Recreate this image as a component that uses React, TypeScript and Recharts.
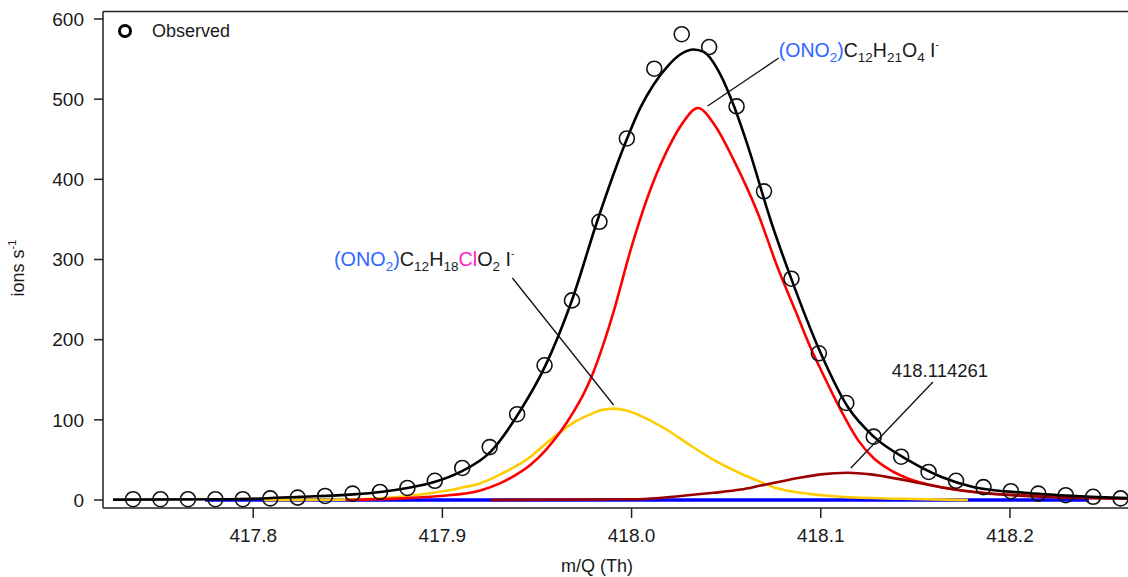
import React from 'react';
import {
  ComposedChart,
  Line,
  Scatter,
  XAxis,
  YAxis,
  ReferenceLine,
  ReferenceDot
} from 'recharts';

// Observed signal (circles)
const obsMz = [
  417.7365, 417.751, 417.7655, 417.78, 417.7945, 417.809, 417.8235, 417.838, 417.8525,
  417.867, 417.8815, 417.896, 417.9105, 417.925, 417.9395, 417.954, 417.9685, 417.983,
  417.9975, 418.012, 418.0265, 418.041, 418.0555, 418.07, 418.0845, 418.099, 418.1135,
  418.128, 418.1425, 418.157, 418.1715, 418.186, 418.2005, 418.215, 418.2295, 418.244, 418.2585
];
const obsIons = [
  1, 1, 1, 1, 1, 2, 3, 5, 8, 10, 15, 24, 40, 66, 107, 168, 249, 347, 451, 538, 581, 565,
  491, 385, 276, 183, 121, 79, 54, 35, 24, 16, 11, 8, 6, 4, 2
];

// total fit (black)
const fitMz = [
  417.7259, 417.7894, 417.8249, 417.8529, 417.8672, 417.8815, 417.8952, 417.9095, 417.9254,
  417.9413, 417.9545, 417.9683, 417.982, 417.9958, 418.0048, 418.0116, 418.019, 418.0259,
  418.0328, 418.0381, 418.0471, 418.054, 418.0614, 418.0735, 418.0841, 418.1, 418.1143,
  418.128, 418.146, 418.1635, 418.181, 418.2074, 418.2349, 418.2624
];
const fitIons = [
  0.5, 1, 4, 7, 10, 15, 22, 35, 60, 112, 168, 248, 349, 440, 490, 518, 541, 556, 562, 559,
  530, 492, 442, 349, 278, 183, 116, 79, 50, 29, 16, 9, 5, 2.5
];

// (ONO2)C12H21O4 I- (red)
const c12h21Mz = [
  417.8487, 417.8778, 417.8989, 417.9201, 417.9307, 417.9386, 417.9466, 417.9545, 417.9624,
  417.9693, 417.9746, 417.9799, 417.9852, 417.9905, 417.9995, 418.0085, 418.019, 418.0275,
  418.0349, 418.0444, 418.054, 418.0667, 418.0772, 418.0868, 418.0937, 418.1026, 418.1106,
  418.1196, 418.128, 418.137, 418.146, 418.1635, 418.181, 418.2164, 418.2624
];
const c12h21Ions = [
  0, 2, 5, 12, 21, 31, 44, 62, 85, 110, 132, 160, 195, 235, 312, 378, 437, 472, 489, 466,
  424, 358, 290, 235, 195, 150, 112, 75, 52, 37, 27, 16, 10, 5, 2
];

// (ONO2)C12H18ClO2 I- (yellow)
const c12h18Mz = [
  417.8048, 417.8497, 417.8778, 417.8952, 417.9095, 417.9201, 417.9307, 417.9466, 417.9545,
  417.9624, 417.9704, 417.9783, 417.9836, 417.9905, 417.9968, 418.0048, 418.019, 418.0312,
  418.0434, 418.0577, 418.0698, 418.0751, 418.0894, 418.1106, 418.1423, 418.1778
];
const c12h18Ions = [
  0, 0.5, 4, 9, 15, 21, 32, 54, 70, 85, 98, 107, 112, 114, 112, 105, 87, 68, 50, 33, 21, 16,
  9, 4, 1.5, 0
];

// 418.114261 (dark red)
const unkMz = [
  417.9254, 418.0032, 418.0259, 418.0434, 418.0577, 418.0683, 418.0788, 418.0894, 418.1,
  418.1143, 418.1265, 418.146, 418.1635, 418.181, 418.2164, 418.2624
];
const unkIons = [0, 1, 5, 9, 13, 18, 23, 28, 32, 34, 32, 24, 16, 10, 4, 1.5];

// empty component (blue)
const blueMz = [417.7746, 418.2418];
const blueIons = [0, 0];

const xTicks = [417.8, 417.9, 418.0, 418.1, 418.2];
const yTicks = [0, 100, 200, 300, 400, 500, 600];

const toRows = (mz: number[], ions: number[]) => mz.map((m, i) => ({ mz: m, ions: ions[i] }));

const FONT = '"Liberation Sans", Arial, sans-serif';
const INK = '#1a1a1a';
const LABEL_BLUE = '#2f66ff';
const LABEL_PINK = '#ff22cc';
const Y_MAX = 609.36;

const ObsCircle = (props: any) => {
  const { cx, cy } = props;
  if (cx == null || cy == null) return null;
  return <circle cx={cx} cy={cy} r={7.5} fill="none" stroke="#111" strokeWidth={1.6} />;
};

const centerOf = (p: any) => {
  const vb = p.viewBox || {};
  return { x: (vb.x ?? 0) + (vb.width ?? 0) / 2, y: (vb.y ?? 0) + (vb.height ?? 0) / 2 };
};

const SUB = 13.5;
const SUP = 10;

const ONO2 = () => (
  <>
    <tspan fill={LABEL_BLUE}>(ONO</tspan>
    <tspan fill={LABEL_BLUE} fontSize={SUB} dy={5}>2</tspan>
    <tspan fill={LABEL_BLUE} dy={-5}>)</tspan>
  </>
);

const LabelC12H21 = (p: any) => {
  const { x, y } = centerOf(p);
  return (
    <text x={x} y={y - 1} fontFamily={FONT} fontSize={19.5} fill={INK}>
      <ONO2 />
      <tspan>C</tspan>
      <tspan fontSize={SUB} dy={5}>12</tspan>
      <tspan dy={-5}>H</tspan>
      <tspan fontSize={SUB} dy={5}>21</tspan>
      <tspan dy={-5}>O</tspan>
      <tspan fontSize={SUB} dy={5}>4</tspan>
      <tspan dy={-5}> I</tspan>
      <tspan fontSize={SUP} dy={-9}>-</tspan>
    </text>
  );
};

const LabelC12H18 = (p: any) => {
  const { x, y } = centerOf(p);
  return (
    <text x={x + 2} y={y - 12} textAnchor="end" fontFamily={FONT} fontSize={19.8} fill={INK}>
      <ONO2 />
      <tspan>C</tspan>
      <tspan fontSize={SUB} dy={5}>12</tspan>
      <tspan dy={-5}>H</tspan>
      <tspan fontSize={SUB} dy={5}>18</tspan>
      <tspan dy={-5} fill={LABEL_PINK}>Cl</tspan>
      <tspan>O</tspan>
      <tspan fontSize={SUB} dy={5}>2</tspan>
      <tspan dy={-5}> I</tspan>
      <tspan fontSize={SUP} dy={-9}>-</tspan>
    </text>
  );
};

const LabelUnknown = (p: any) => {
  const { x, y } = centerOf(p);
  return (
    <text x={x + 7} y={y - 5} textAnchor="middle" fontFamily={FONT} fontSize={18.5} fill={INK}>
      418.114261
    </text>
  );
};

const ObservedLegend = () => (
  <div
    style={{
      position: 'absolute',
      left: 117,
      top: 21,
      display: 'flex',
      alignItems: 'center',
      fontFamily: FONT,
      fontSize: 18,
      color: INK,
      lineHeight: '20px'
    }}
  >
    <svg width={16} height={16}>
      <circle cx={8} cy={8} r={5.5} fill="none" stroke="#000" strokeWidth={3} />
    </svg>
    <span style={{ marginLeft: 19 }}>Observed</span>
  </div>
);

const YLabel = () => (
  <text x={24} y={268} transform="rotate(-90, 24, 268)" textAnchor="middle" fontFamily={FONT} fontSize={18} fill={INK}>
    ions s<tspan fontSize={11} dy={-8}>-1</tspan>
  </text>
);

const XLabel = () => (
  <text x={597} y={572} textAnchor="middle" fontFamily={FONT} fontSize={18} fill={INK}>
    m/Q (Th)
  </text>
);

const tickStyle = { fill: INK, fontSize: 19, fontFamily: FONT };
const axisStroke = { stroke: '#222', strokeWidth: 1.5 };

export default function App() {
  return (
    <div style={{ position: 'absolute', left: 0, top: 0, width: 1128, height: 577, background: '#fff' }}>
      <ComposedChart width={1128} height={577} margin={{ top: 11.5, right: 0, left: 0, bottom: 0 }}>
        <XAxis
          dataKey="mz"
          type="number"
          domain={[417.7206, 418.2624]}
          ticks={xTicks}
          tickFormatter={(v: number) => v.toFixed(1)}
          allowDataOverflow
          height={69}
          tick={tickStyle}
          tickSize={10}
          tickMargin={11}
          axisLine={axisStroke}
          tickLine={axisStroke}
          label={<XLabel />}
        />
        <YAxis
          type="number"
          domain={[-9.98, Y_MAX]}
          ticks={yTicks}
          allowDataOverflow
          width={103}
          tick={tickStyle}
          tickSize={9}
          tickMargin={10}
          axisLine={axisStroke}
          tickLine={axisStroke}
          label={<YLabel />}
        />
        {/* top frame */}
        <ReferenceLine y={Y_MAX} stroke="#222" strokeWidth={1.5} ifOverflow="visible" />

        <Line data={toRows(blueMz, blueIons)} dataKey="ions" type="linear" stroke="#0000ff" strokeWidth={3.5} dot={false} isAnimationActive={false} />
        <Line data={toRows(c12h18Mz, c12h18Ions)} dataKey="ions" type="monotone" stroke="#ffcc00" strokeWidth={2.6} dot={false} isAnimationActive={false} />
        <Line data={toRows(c12h21Mz, c12h21Ions)} dataKey="ions" type="monotone" stroke="#ff0000" strokeWidth={2.6} dot={false} isAnimationActive={false} />
        <Line data={toRows(unkMz, unkIons)} dataKey="ions" type="monotone" stroke="#9b0000" strokeWidth={2.6} dot={false} isAnimationActive={false} />
        <Line data={toRows(fitMz, fitIons)} dataKey="ions" type="monotone" stroke="#000" strokeWidth={2.6} dot={false} isAnimationActive={false} />
        <Scatter data={toRows(obsMz, obsIons)} dataKey="ions" shape={<ObsCircle />} isAnimationActive={false} />

        <ReferenceLine segment={[{ x: 418.0402, y: 491.5 }, { x: 418.0778, y: 551.3 }]} stroke="#111" strokeWidth={1.3} />
        <ReferenceLine segment={[{ x: 417.937, y: 276.9 }, { x: 417.9905, y: 118.5 }]} stroke="#111" strokeWidth={1.3} />
        <ReferenceLine segment={[{ x: 418.1593, y: 147.2 }, { x: 418.1159, y: 39.9 }]} stroke="#111" strokeWidth={1.3} />

        <ReferenceDot x={418.0778} y={551.3} r={1} fill="none" stroke="none" label={(p: any) => <LabelC12H21 {...p} />} />
        <ReferenceDot x={417.937} y={276.9} r={1} fill="none" stroke="none" label={(p: any) => <LabelC12H18 {...p} />} />
        <ReferenceDot x={418.1593} y={147.2} r={1} fill="none" stroke="none" label={(p: any) => <LabelUnknown {...p} />} />
      </ComposedChart>
      <ObservedLegend />
    </div>
  );
}
